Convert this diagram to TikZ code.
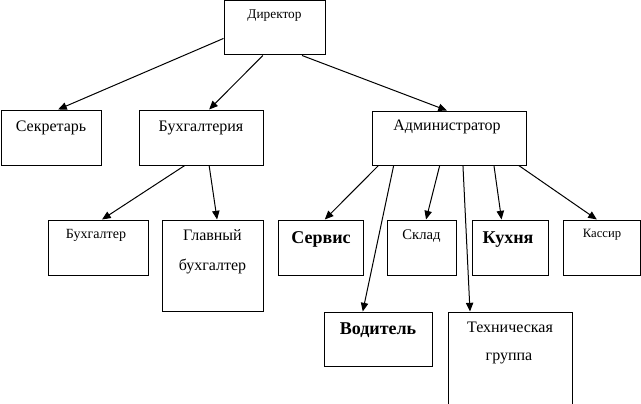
\documentclass[tikz,border=0pt]{standalone}
\usepackage{fontspec}
\setmainfont{Liberation Serif}
\usetikzlibrary{arrows.meta,calc,fit}
\begin{document}
\begin{tikzpicture}[x=0.75pt,y=-0.75pt,
  box/.style={draw, line width=0.75pt, inner sep=0pt},
  lbl/.style={anchor=base, inner sep=0pt},
  conn/.style={line width=0.75pt, -{Triangle[length=6.5pt,width=5.5pt]}}]
\useasboundingbox (0,0) rectangle (641,403);
\clip (0,0) rectangle (641,403);
% boxes
\node[box, fit={(224,1)(325,55)}] (dir) {};
\node[box, fit={(1,110)(101,165)}] (sec) {};
\node[box, fit={(139,110)(263,165)}] (buh) {};
\node[box, fit={(372,111)(526,165)}] (adm) {};
\node[box, fit={(48,220)(148,275)}] (buhg) {};
\node[box, fit={(162,220)(263,311)}] (glav) {};
\node[box, fit={(278,220)(363,275)}] (serv) {};
\node[box, fit={(387,220)(456,275)}] (skl) {};
\node[box, fit={(472,220)(548,275)}] (kuh) {};
\node[box, fit={(563,220)(640,275)}] (kas) {};
\node[box, fit={(324,312)(432,366)}] (vod) {};
\node[box, fit={(448,312)(572,410)}] (tech) {};
% labels
\node[lbl, font=\fontsize{10}{12}\selectfont] (tdir) at (274.5,19) {Директор};
\node[lbl, font=\fontsize{12}{14}\selectfont] (tsec) at (51,131) {Секретарь};
\node[lbl, font=\fontsize{12}{14}\selectfont] (tbuh) at (201,131) {Бухгалтерия};
\node[lbl, font=\fontsize{12}{14}\selectfont] (tadm) at (447,130) {Администратор};
\node[lbl, font=\fontsize{10.5}{12}\selectfont] (tbuhg) at (96,238) {Бухгалтер};
\node[lbl, font=\fontsize{12}{14}\selectfont] (tglav1) at (212.5,240) {Главный};
\node[lbl, font=\fontsize{12}{14}\selectfont] (tglav2) at (212.5,270) {бухгалтер};
\node[lbl, font=\bfseries\fontsize{13.5}{16}\selectfont] (tserv) at (321,243) {Сервис};
\node[lbl, font=\fontsize{11}{13}\selectfont] (tskl) at (421.5,239) {Склад};
\node[lbl, font=\bfseries\fontsize{13.5}{16}\selectfont] (tkuh) at (508,243) {Кухня};
\node[lbl, font=\fontsize{9.5}{11}\selectfont] (tkas) at (602,237) {Кассир};
\node[lbl, font=\bfseries\fontsize{13.5}{16}\selectfont] (tvod) at (378,334) {Водитель};
\node[lbl, font=\fontsize{12}{14}\selectfont] (ttech1) at (510,332) {Техническая};
\node[lbl, font=\fontsize{12}{14}\selectfont] (ttech2) at (509,360) {группа};
% connectors
\draw[conn] ($(dir.north west)!0.69!(dir.south west)$) -- ($(sec.north west)!0.57!(sec.north east)$);
\draw[conn] ($(dir.south west)!0.386!(dir.south east)$) -- ($(buh.north west)!0.565!(buh.north east)$);
\draw[conn] ($(dir.south west)!0.77!(dir.south east)$) -- ($(adm.north west)!0.487!(adm.north east)$);
\draw[conn] ($(buh.south west)!0.37!(buh.south east)$) -- ($(buhg.north west)!0.54!(buhg.north east)$);
\draw[conn] ($(buh.south west)!0.565!(buh.south east)$) -- ($(glav.north west)!0.545!(glav.north east)$);
\draw[conn] ($(adm.south west)!0.045!(adm.south east)$) -- ($(serv.north west)!0.55!(serv.north east)$);
\draw[conn] ($(adm.south west)!0.143!(adm.south east)$) -- ($(vod.north west)!0.36!(vod.north east)$);
\draw[conn] ($(adm.south west)!0.44!(adm.south east)$) -- ($(skl.north west)!0.565!(skl.north east)$);
\draw[conn] ($(adm.south west)!0.59!(adm.south east)$) -- ($(tech.north west)!0.18!(tech.north east)$);
\draw[conn] ($(adm.south west)!0.79!(adm.south east)$) -- ($(kuh.north west)!0.39!(kuh.north east)$);
\draw[conn] ($(adm.south west)!0.95!(adm.south east)$) -- ($(kas.north west)!0.44!(kas.north east)$);
\end{tikzpicture}
\end{document}
